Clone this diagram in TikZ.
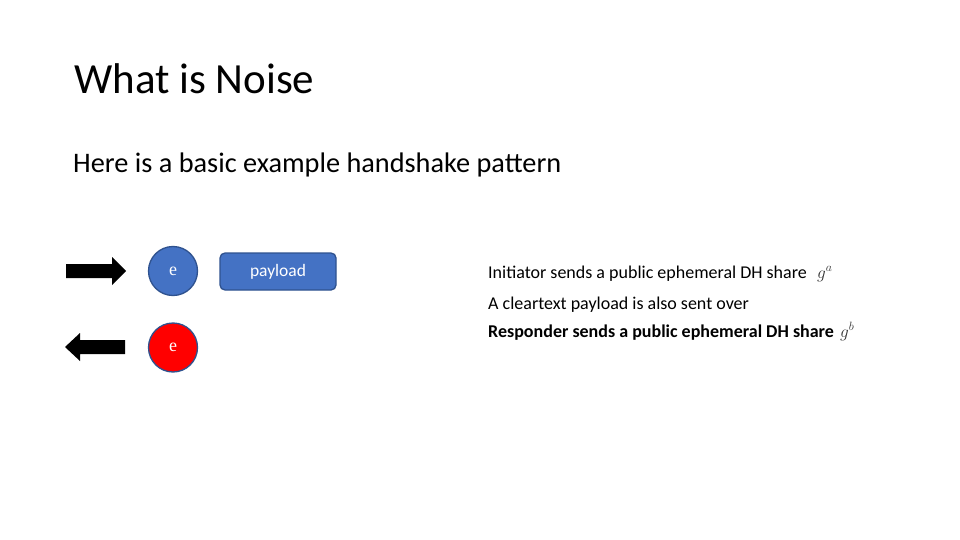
\documentclass[tikz,border=0pt]{standalone}
\usepackage{fontspec}
\setmainfont{Carlito}
\definecolor{accblue}{HTML}{4472C4}
\definecolor{accedge}{HTML}{2F528F}
\definecolor{accred}{HTML}{FF0000}
\begin{document}
\begin{tikzpicture}[x=1pt,y=-1pt,
  txt/.style={inner sep=0pt, anchor=base west},
  ebubble/.style={circle, draw=accedge, line width=1.3pt, minimum size=49pt, inner sep=0pt, text=white, font=\fontspec{Liberation Serif}\fontsize{18}{21}\selectfont},
  pbox/.style={rounded corners=5pt, draw=accedge, line width=1.3pt, fill=accblue, minimum width=116pt, minimum height=37pt, inner sep=0pt, text=white, font=\fontsize{17.5}{20}\selectfont},
  bigarrow/.style={fill=black, draw=none},
  side/.style={txt, font=\fontsize{18}{21}\selectfont},
  mathlbl/.style={txt, text=black!80, font=\fontsize{18}{21}\selectfont}
]
\useasboundingbox[fill=white] (0,0) rectangle (960,540);
\node[txt, font=\fontsize{43}{52}\selectfont] (title) at (74,94) {What is Noise};
\node[txt, font=\fontsize{28.3}{34}\selectfont] (sub) at (73,172) {Here is a basic example handshake pattern};
% arrows
\fill[bigarrow] (66,264) -- (112,264) -- (112,257) -- (126,271) -- (112,285) -- (112,278) -- (66,278) -- cycle;
\fill[bigarrow] (125,340) -- (80,340) -- (80,333) -- (65,347) -- (80,361) -- (80,354) -- (125,354) -- cycle;
% circles
\node[ebubble, fill=accblue] (e1) at (173,271) {e};
\node[ebubble, fill=accred] (e2) at (173,347.5) {e};
\node[pbox] (pl) at (278,271.5) {payload};
% side texts
\node[side] (t1) at (488,278) {Initiator sends a public ephemeral DH share};
\node[mathlbl] (g1) at (817,278) {$g^a$};
\node[side] (t2) at (488,309) {A cleartext payload is also sent over};
\node[side, font=\bfseries\fontsize{18}{21}\selectfont] (t3) at (488,337) {Responder sends a public ephemeral DH share};
\node[mathlbl] (g2) at (840,337) {$g^b$};
\end{tikzpicture}
\end{document}
